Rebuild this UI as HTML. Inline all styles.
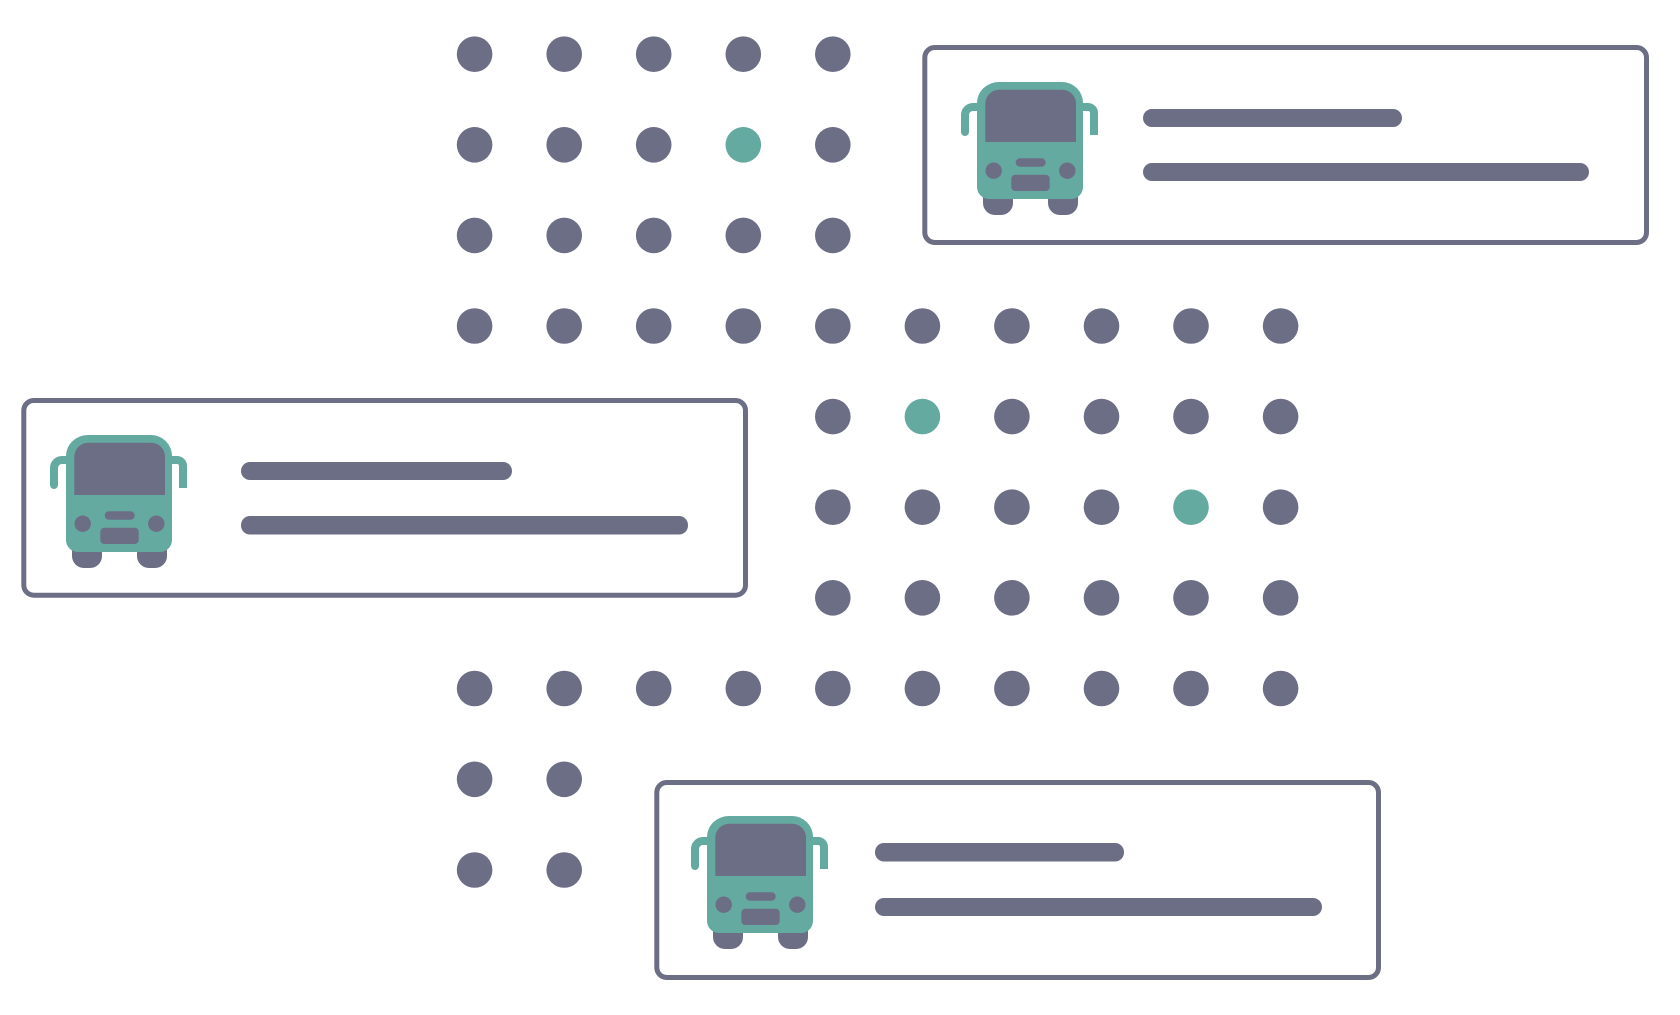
<!DOCTYPE html>
<html><head><meta charset="utf-8"><title>Bus dots</title>
<style>html,body{margin:0;padding:0;background:#fff}svg{display:block}</style></head>
<body>
<svg xmlns="http://www.w3.org/2000/svg" xmlns:xlink="http://www.w3.org/1999/xlink" width="1680" height="1015" viewBox="0 0 1680 1015">
<defs>
<g id="bus">
<path d="M2 25H-4A8 8 0 0 0-12 33V50" fill="none" stroke="#64aaa0" stroke-width="8" stroke-linecap="round"/>
<path d="M105 25H111A6 6 0 0 1 117 31V53" fill="none" stroke="#64aaa0" stroke-width="8"/>
<rect x="6" y="100" width="30" height="33" rx="12" fill="#6c6e85"/>
<rect x="71" y="100" width="30" height="33" rx="12" fill="#6c6e85"/>
<path d="M22 0H85A21 21 0 0 1 106 21V105A12 12 0 0 1 95 117H12A12 12 0 0 1 0 105V21A22 21 0 0 1 22 0Z" fill="#64aaa0"/>
<path d="M22 7.7H85A14 14 0 0 1 99 22V60H8.300V22A14 14 0 0 1 22 7.700Z" fill="#6c6e85"/>
<rect x="38.700" y="76.300" width="30" height="8.400" rx="4.200" fill="#6c6e85"/>
<rect x="34.300" y="92.700" width="38.400" height="16.300" rx="4" fill="#6c6e85"/>
<circle cx="16.700" cy="88.700" r="8.200" fill="#6c6e85"/>
<circle cx="90.300" cy="88.700" r="8.200" fill="#6c6e85"/>
</g>
</defs>
<g fill="#6c6e85" transform="translate(0.300 0.200)">
<circle cx="474.300" cy="54" r="17.800"/><circle cx="563.900" cy="54" r="17.800"/><circle cx="653.400" cy="54" r="17.800"/><circle cx="743" cy="54" r="17.800"/><circle cx="832.500" cy="54" r="17.800"/>
<circle cx="474.300" cy="144.600" r="17.800"/><circle cx="563.900" cy="144.600" r="17.800"/><circle cx="653.400" cy="144.600" r="17.800"/><circle cx="743" cy="144.600" r="17.800" fill="#64aaa0"/><circle cx="832.500" cy="144.600" r="17.800"/>
<circle cx="474.300" cy="235.200" r="17.800"/><circle cx="563.900" cy="235.200" r="17.800"/><circle cx="653.400" cy="235.200" r="17.800"/><circle cx="743" cy="235.200" r="17.800"/><circle cx="832.500" cy="235.200" r="17.800"/>
<circle cx="474.300" cy="325.800" r="17.800"/><circle cx="563.900" cy="325.800" r="17.800"/><circle cx="653.400" cy="325.800" r="17.800"/><circle cx="743" cy="325.800" r="17.800"/><circle cx="832.500" cy="325.800" r="17.800"/><circle cx="922.100" cy="325.800" r="17.800"/><circle cx="1011.600" cy="325.800" r="17.800"/><circle cx="1101.200" cy="325.800" r="17.800"/><circle cx="1190.700" cy="325.800" r="17.800"/><circle cx="1280.300" cy="325.800" r="17.800"/>
<circle cx="832.500" cy="416.400" r="17.800"/><circle cx="922.100" cy="416.400" r="17.800" fill="#64aaa0"/><circle cx="1011.600" cy="416.400" r="17.800"/><circle cx="1101.200" cy="416.400" r="17.800"/><circle cx="1190.700" cy="416.400" r="17.800"/><circle cx="1280.300" cy="416.400" r="17.800"/>
<circle cx="832.500" cy="507" r="17.800"/><circle cx="922.100" cy="507" r="17.800"/><circle cx="1011.600" cy="507" r="17.800"/><circle cx="1101.200" cy="507" r="17.800"/><circle cx="1190.700" cy="507" r="17.800" fill="#64aaa0"/><circle cx="1280.300" cy="507" r="17.800"/>
<circle cx="832.500" cy="597.600" r="17.800"/><circle cx="922.100" cy="597.600" r="17.800"/><circle cx="1011.600" cy="597.600" r="17.800"/><circle cx="1101.200" cy="597.600" r="17.800"/><circle cx="1190.700" cy="597.600" r="17.800"/><circle cx="1280.300" cy="597.600" r="17.800"/>
<circle cx="474.300" cy="688.300" r="17.800"/><circle cx="563.900" cy="688.300" r="17.800"/><circle cx="653.400" cy="688.300" r="17.800"/><circle cx="743" cy="688.300" r="17.800"/><circle cx="832.500" cy="688.300" r="17.800"/><circle cx="922.100" cy="688.300" r="17.800"/><circle cx="1011.600" cy="688.300" r="17.800"/><circle cx="1101.200" cy="688.300" r="17.800"/><circle cx="1190.700" cy="688.300" r="17.800"/><circle cx="1280.300" cy="688.300" r="17.800"/>
<circle cx="474.300" cy="779.100" r="17.800"/><circle cx="563.900" cy="779.100" r="17.800"/>
<circle cx="474.300" cy="869.800" r="17.800"/><circle cx="563.900" cy="869.800" r="17.800"/>
</g>
<g fill="none" stroke="#6c6e85" stroke-width="5">
<rect x="924.800" y="47.500" width="721.700" height="195" rx="10"/>
<rect x="23.800" y="400.500" width="721.700" height="194.700" rx="10"/>
<rect x="656.800" y="782.500" width="721.700" height="195" rx="10"/>
</g>
<use xlink:href="#bus" href="#bus" x="977" y="82"/>
<use xlink:href="#bus" href="#bus" x="66" y="435"/>
<use xlink:href="#bus" href="#bus" x="707" y="816"/>
<g fill="#6c6e85">
<rect x="1143" y="109" width="259" height="18" rx="9"/>
<rect x="1143" y="163" width="446" height="18" rx="9"/>
<rect x="241" y="462" width="271" height="18" rx="9"/>
<rect x="241" y="516" width="447" height="18.500" rx="9"/>
<rect x="875" y="843" width="249" height="18.500" rx="9"/>
<rect x="875" y="898" width="447" height="18" rx="9"/>
</g>
</svg>
</body></html>
